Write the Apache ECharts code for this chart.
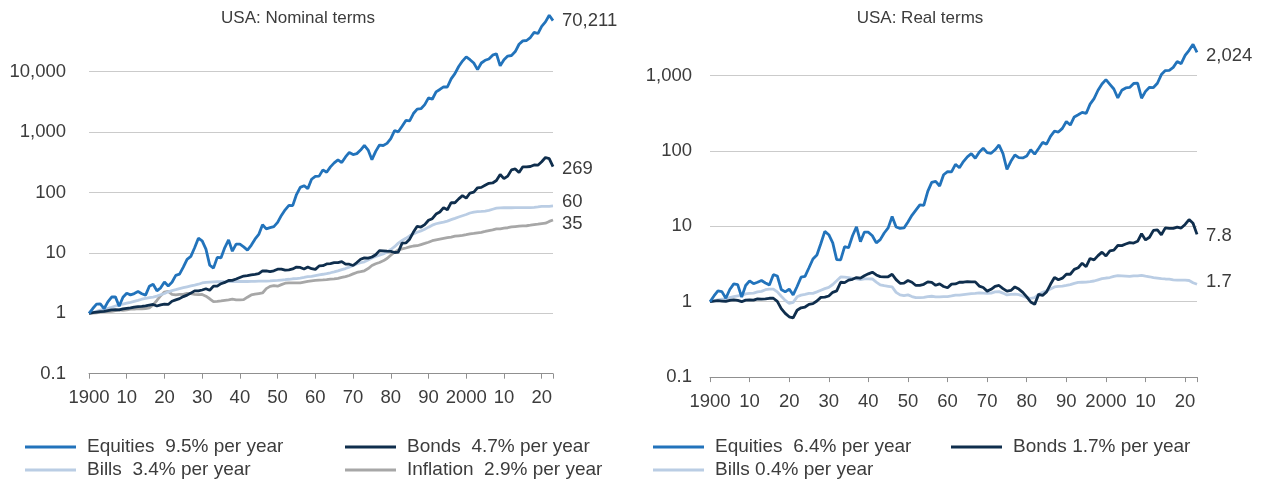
<!DOCTYPE html>
<html>
<head>
<meta charset="utf-8">
<script src="https://cdn.jsdelivr.net/npm/echarts@6/dist/echarts.min.js"></script>
<style>
  html, body { margin: 0; padding: 0; background: #ffffff; }
  #chart { width: 1267px; height: 486px; }
</style>
</head>
<body>
<div id="chart"></div>
<script>
// Cumulative index levels, start of 1900 = 1, one value per year-end (1900 ... 2023)
const startYear = 1900;

// Nominal terms
const nominalEquities = [
  1.00, 1.20, 1.42, 1.43, 1.19, 1.55, 1.86, 1.87, 1.31, 1.84,
  2.15, 2.02, 2.12, 2.29, 2.11, 2.00, 2.80, 3.02, 2.36, 2.64,
  3.30, 2.84, 3.27, 4.25, 4.46, 5.80, 7.83, 8.76, 12.17, 17.48,
  15.85, 11.55, 6.29, 5.59, 8.42, 8.31, 12.27, 16.43, 10.67, 14.00,
  13.94, 12.57, 11.12, 13.37, 16.84, 20.17, 29.3, 25.00, 26.13, 27.25,
  32.0, 41.7, 51.7, 61.2, 60.6, 92.4, 121.6, 129.6, 115.6, 165.8,
  185.6, 186.6, 236.8, 216.2, 265.5, 309.2, 347.9, 312.7, 387.8, 460,
  425, 440, 505, 605, 505, 350, 480, 610, 600, 650,
  780, 1060, 1010, 1250, 1560, 1540, 2030, 2400, 2440, 2850,
  3680, 3500, 4620, 5080, 5620, 5580, 7600, 9300, 12200, 15000,
  17600, 15778, 13900, 10829, 13936, 15456, 16213, 18774, 19807, 12478,
  15785, 18168, 18550, 21518, 28490, 32393, 32847, 36788, 44808, 42836,
  56329, 66694, 85835, 70211
];
const nominalBonds = [
  1.00, 1.03, 1.05, 1.07, 1.08, 1.11, 1.14, 1.15, 1.14, 1.18,
  1.21, 1.23, 1.27, 1.29, 1.30, 1.33, 1.37, 1.40, 1.32, 1.38,
  1.42, 1.40, 1.58, 1.67, 1.75, 1.89, 2.00, 2.16, 2.35, 2.35,
  2.43, 2.55, 2.41, 2.82, 2.81, 3.09, 3.25, 3.49, 3.50, 3.69,
  3.91, 4.14, 4.19, 4.32, 4.41, 4.53, 5.02, 5.02, 4.88, 5.05,
  5.38, 5.39, 5.18, 5.24, 5.43, 5.82, 5.74, 5.42, 5.83, 5.47,
  5.34, 6.08, 6.14, 6.56, 6.65, 6.88, 6.92, 7.19, 6.52, 6.50,
  6.18, 6.92, 7.84, 8.28, 8.19, 8.55, 9.34, 10.91, 10.84, 10.70,
  10.57, 10.15, 10.34, 14.52, 14.62, 16.88, 22.12, 27.54, 26.79, 29.39,
  34.72, 36.87, 43.98, 47.55, 56.20, 51.82, 68.24, 67.63, 78.38, 88.65,
  80.68, 98.03, 101.7, 119.7, 121.5, 131.8, 142.1, 143.8, 158.1, 199.0,
  169.4, 186.5, 237.0, 245.1, 213.8, 266.5, 264.7, 269.4, 286.1, 283.3,
  323.0, 380.1, 363.4, 269
];
const nominalBills = [
  1.00, 1.04, 1.08, 1.13, 1.17, 1.21, 1.26, 1.32, 1.38, 1.42,
  1.47, 1.52, 1.58, 1.64, 1.71, 1.76, 1.81, 1.86, 1.93, 2.03,
  2.13, 2.27, 2.38, 2.46, 2.57, 2.66, 2.75, 2.84, 2.93, 3.03,
  3.18, 3.25, 3.29, 3.32, 3.33, 3.34, 3.34, 3.35, 3.36, 3.36,
  3.36, 3.36, 3.36, 3.37, 3.39, 3.40, 3.41, 3.42, 3.44, 3.47,
  3.50, 3.55, 3.60, 3.66, 3.73, 3.76, 3.82, 3.92, 4.04, 4.10,
  4.22, 4.34, 4.43, 4.55, 4.69, 4.86, 5.05, 5.29, 5.51, 5.80,
  6.18, 6.58, 6.87, 7.13, 7.62, 8.23, 8.71, 9.15, 9.62, 10.31,
  11.38, 12.66, 14.52, 16.04, 17.45, 19.18, 20.66, 21.94, 23.15, 24.63,
  26.70, 28.78, 30.39, 31.46, 32.37, 33.63, 35.51, 37.36, 39.34, 41.27,
  43.21, 45.76, 47.50, 48.26, 48.74, 49.3, 50.6, 52.8, 55.0, 55.8,
  55.9, 55.9, 55.9, 56.0, 56.0, 56.0, 56.0, 56.1, 56.6, 57.7,
  58.9, 59.1, 59.1, 60
];
const inflation = [
  1.00, 1.01, 1.02, 1.05, 1.07, 1.07, 1.08, 1.11, 1.14, 1.12,
  1.14, 1.17, 1.17, 1.20, 1.19, 1.20, 1.23, 1.38, 1.63, 1.96,
  2.25, 2.31, 2.06, 2.01, 2.06, 2.06, 2.13, 2.11, 2.06, 2.04,
  2.05, 1.92, 1.74, 1.56, 1.57, 1.60, 1.64, 1.67, 1.71, 1.67,
  1.67, 1.68, 1.85, 2.01, 2.07, 2.12, 2.17, 2.56, 2.79, 2.87,
  2.81, 2.98, 3.15, 3.18, 3.20, 3.18, 3.19, 3.29, 3.38, 3.44,
  3.50, 3.55, 3.57, 3.62, 3.68, 3.71, 3.79, 3.92, 4.04, 4.23,
  4.49, 4.74, 4.89, 5.06, 5.50, 6.18, 6.61, 6.93, 7.39, 8.06,
  9.13, 10.27, 11.19, 11.62, 12.06, 12.54, 13.01, 13.15, 13.74, 14.35,
  15.01, 15.93, 16.42, 16.89, 17.36, 17.82, 18.27, 18.88, 19.20, 19.51,
  20.04, 20.71, 21.04, 21.54, 21.94, 22.65, 23.43, 24.02, 25.00, 25.02,
  25.70, 26.10, 26.87, 27.33, 27.74, 27.95, 28.15, 28.74, 29.35, 29.90,
  30.59, 31.01, 33.19, 35
];

// Real terms
const realEquities = [
  1.00, 1.19, 1.39, 1.36, 1.11, 1.45, 1.72, 1.68, 1.15, 1.64,
  1.89, 1.73, 1.81, 1.91, 1.77, 1.67, 2.28, 2.19, 1.45, 1.35,
  1.47, 1.23, 1.59, 2.11, 2.17, 2.82, 3.68, 4.15, 5.91, 8.57,
  7.73, 6.02, 3.61, 3.58, 5.36, 5.19, 7.48, 9.84, 6.24, 8.38,
  8.35, 7.48, 6.01, 6.65, 8.14, 9.51, 13.5, 9.77, 9.37, 9.49,
  11.39, 13.98, 16.40, 19.23, 18.92, 29.06, 38.12, 39.39, 34.20, 48.20,
  53.03, 52.56, 66.33, 59.72, 72.15, 83.34, 91.79, 79.77, 95.99, 108.7,
  94.7, 92.8, 103.3, 119.6, 91.8, 56.6, 72.6, 88.0, 81.2, 80.6,
  85.4, 103.2, 90.3, 107.6, 129.4, 122.8, 156.0, 182.5, 177.6, 198.6,
  245.2, 219.7, 281.4, 300.8, 323.7, 313.1, 416.0, 492.6, 635.4, 768.8,
  878.2, 761.9, 660.6, 502.7, 635.2, 682.4, 692.0, 781.6, 792.3, 498.7,
  614.2, 696.1, 690.4, 787.3, 1027, 1159, 1167, 1280, 1527, 1433,
  1841, 2151, 2586, 2024
];
const realBonds = [
  1.00, 1.02, 1.03, 1.02, 1.01, 1.04, 1.06, 1.04, 1.00, 1.05,
  1.06, 1.05, 1.09, 1.08, 1.09, 1.11, 1.11, 1.01, 0.81, 0.70,
  0.63, 0.61, 0.77, 0.83, 0.85, 0.92, 0.94, 1.02, 1.14, 1.15,
  1.19, 1.33, 1.39, 1.81, 1.79, 1.93, 1.98, 2.09, 2.05, 2.21,
  2.34, 2.46, 2.26, 2.15, 2.13, 2.14, 2.31, 1.96, 1.75, 1.76,
  1.91, 1.81, 1.64, 1.65, 1.70, 1.83, 1.80, 1.65, 1.72, 1.59,
  1.53, 1.71, 1.72, 1.81, 1.81, 1.85, 1.83, 1.83, 1.61, 1.54,
  1.38, 1.46, 1.60, 1.64, 1.49, 1.38, 1.41, 1.57, 1.47, 1.33,
  1.16, 0.99, 0.92, 1.25, 1.21, 1.35, 1.70, 2.09, 1.95, 2.05,
  2.31, 2.31, 2.68, 2.82, 3.24, 2.91, 3.74, 3.58, 4.08, 4.54,
  4.03, 4.73, 4.83, 5.56, 5.54, 5.82, 6.06, 5.99, 6.32, 7.95,
  6.59, 7.15, 8.82, 8.97, 7.71, 9.53, 9.40, 9.37, 9.75, 9.47,
  10.56, 12.26, 10.95, 7.8
];
const realBills = [
  1.00, 1.03, 1.06, 1.08, 1.09, 1.13, 1.17, 1.19, 1.21, 1.27,
  1.29, 1.30, 1.35, 1.37, 1.44, 1.47, 1.47, 1.35, 1.18, 1.04,
  0.95, 0.98, 1.16, 1.22, 1.25, 1.29, 1.29, 1.35, 1.42, 1.49,
  1.55, 1.69, 1.89, 2.13, 2.12, 2.09, 2.04, 2.00, 1.96, 2.01,
  2.01, 2.00, 1.82, 1.67, 1.63, 1.60, 1.57, 1.33, 1.23, 1.20,
  1.23, 1.17, 1.13, 1.13, 1.14, 1.17, 1.18, 1.16, 1.16, 1.17,
  1.17, 1.19, 1.22, 1.22, 1.24, 1.26, 1.28, 1.29, 1.31, 1.30,
  1.29, 1.30, 1.35, 1.36, 1.30, 1.23, 1.25, 1.26, 1.24, 1.19,
  1.13, 1.11, 1.13, 1.25, 1.33, 1.39, 1.47, 1.57, 1.60, 1.61,
  1.64, 1.68, 1.75, 1.80, 1.81, 1.82, 1.84, 1.88, 1.95, 2.02,
  2.06, 2.09, 2.17, 2.21, 2.20, 2.18, 2.16, 2.20, 2.20, 2.23,
  2.18, 2.14, 2.08, 2.05, 2.02, 2.00, 1.99, 1.95, 1.93, 1.93,
  1.93, 1.91, 1.78, 1.7
];

// Legend captions
const nominalLabels = {
  equities: 'Equities  9.5% per year',
  bonds: 'Bonds  4.7% per year',
  bills: 'Bills  3.4% per year',
  inflation: 'Inflation  2.9% per year'
};
const realLabels = {
  equities: 'Equities  6.4% per year',
  bonds: 'Bonds 1.7% per year',
  bills: 'Bills 0.4% per year'
};

const FONT = "'Liberation Sans', Arial, Helvetica, sans-serif";
const TEXT = '#3c3c3c';
const COLORS = {
  equities: '#2273bb',
  bonds: '#0f2e4d',
  bills: '#bacde4',
  inflation: '#a7a7a7'
};

function toPoints(values) {
  return values.map((v, i) => [startYear + i, v]);
}

function yearLabel(v) {
  if (v % 10 !== 0) return '';
  if (v === 1900 || v === 2000) return String(v);
  return String(v % 100);
}

function levelLabel(v) {
  const n = Number(Number(v).toPrecision(6));
  return n >= 1000 ? n.toLocaleString('en-US') : String(n);
}

function xAxisFor(gridIndex) {
  return {
    type: 'value', gridIndex, min: 1900, max: 2023, interval: 10,
    axisLine: { show: true, lineStyle: { color: '#909090', width: 1 } },
    axisTick: { show: true, length: 5, lineStyle: { color: '#909090', width: 1 } },
    axisLabel: { formatter: yearLabel, color: TEXT, fontSize: 18.5, fontFamily: FONT, margin: 15,
                 showMinLabel: true, showMaxLabel: true },
    splitLine: { show: false }
  };
}

function yAxisFor(gridIndex, max, margin) {
  return {
    type: 'log', logBase: 10, gridIndex, min: 0.1, max,
    axisLine: { show: false }, axisTick: { show: false },
    axisLabel: { formatter: levelLabel, color: TEXT, fontSize: 18.5, fontFamily: FONT, margin,
                 showMaxLabel: false },
    splitLine: { show: true, showMinLine: false, showMaxLine: false,
                 lineStyle: { color: '#cbcbcb', width: 1 } }
  };
}

function lineSeries(name, values, color, axisIndex, endText, offset, z) {
  return {
    name, type: 'line', xAxisIndex: axisIndex, yAxisIndex: axisIndex,
    data: toPoints(values), showSymbol: false, symbol: 'none', z,
    lineStyle: { color, width: 2.8 }, itemStyle: { color },
    emphasis: { disabled: true },
    endLabel: { show: true, formatter: endText, color: TEXT, fontSize: 18.5, fontFamily: FONT,
                distance: 9, offset }
  };
}

const legendCommon = {
  orient: 'vertical', icon: 'rect', itemWidth: 51, itemHeight: 3, itemGap: 3,
  selectedMode: false, padding: 0,
  textStyle: { color: TEXT, fontSize: 19, fontFamily: FONT, lineHeight: 20, padding: [0, 0, 0, 6] }
};

const chart = echarts.init(document.getElementById('chart'), null, { renderer: 'canvas' });
chart.setOption({
  animation: false,
  backgroundColor: '#ffffff',
  title: [
    { text: 'USA: Nominal terms', left: 298, top: 10, textAlign: 'center', padding: 0,
      textStyle: { fontSize: 17, fontWeight: 'normal', color: TEXT, fontFamily: FONT } },
    { text: 'USA: Real terms', left: 920, top: 10, textAlign: 'center', padding: 0,
      textStyle: { fontSize: 17, fontWeight: 'normal', color: TEXT, fontFamily: FONT } }
  ],
  grid: [
    { left: 89, top: 11.3, width: 464, height: 362.4 },
    { left: 710, top: -3.4, width: 487, height: 380.5 }
  ],
  xAxis: [xAxisFor(0), xAxisFor(1)],
  yAxis: [yAxisFor(0, 100000, 23), yAxisFor(1, 10000, 18)],
  legend: [
    Object.assign({}, legendCommon, { left: 25, top: 437, data: [nominalLabels.equities, nominalLabels.bills] }),
    Object.assign({}, legendCommon, { left: 345, top: 437, data: [nominalLabels.bonds, nominalLabels.inflation] }),
    Object.assign({}, legendCommon, { left: 653, top: 437, data: [realLabels.equities, realLabels.bills] }),
    Object.assign({}, legendCommon, { left: 951, top: 437, data: [realLabels.bonds] })
  ],
  series: [
    lineSeries(nominalLabels.inflation, inflation, COLORS.inflation, 0, '35', [0, 4], 2),
    lineSeries(nominalLabels.bills, nominalBills, COLORS.bills, 0, '60', [0, -4], 3),
    lineSeries(nominalLabels.bonds, nominalBonds, COLORS.bonds, 0, '269', [0, 2], 4),
    lineSeries(nominalLabels.equities, nominalEquities, COLORS.equities, 0, '70,211', [0, 0], 5),
    lineSeries(realLabels.bills, realBills, COLORS.bills, 1, '1.7', [0, -2], 3),
    lineSeries(realLabels.bonds, realBonds, COLORS.bonds, 1, '7.8', [0, 2], 4),
    lineSeries(realLabels.equities, realEquities, COLORS.equities, 1, '2,024', [0, 4], 5)
  ]
});
</script>
</body>
</html>
